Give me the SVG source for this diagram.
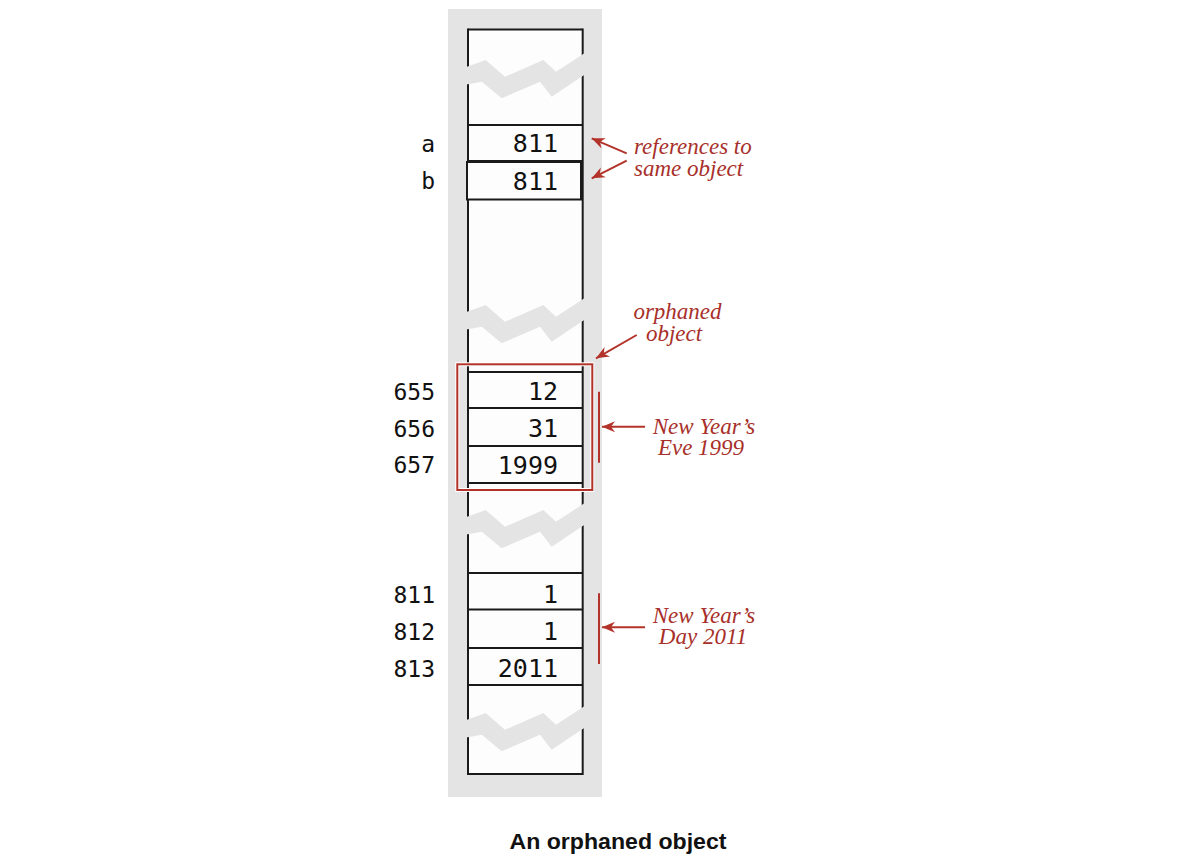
<svg xmlns="http://www.w3.org/2000/svg" width="1196" height="868" viewBox="0 0 1196 868">
<style>
.col{stroke:#1a1a1a;stroke-width:2;fill:none}
.cell{font-family:"DejaVu Sans Mono","Liberation Mono",monospace;font-size:25px;fill:#111;text-anchor:end}
.lab{font-family:"DejaVu Sans Mono","Liberation Mono",monospace;font-size:23px;fill:#111;text-anchor:end}
.note{font-family:"Liberation Serif","DejaVu Serif",serif;font-style:italic;font-size:23px;fill:#a8302a}
.red{stroke:#b3332a;stroke-width:2;fill:none}
.band{fill:#e4e4e4}
</style>
<defs>
<path id="band" d="M458,70 L485.7,60 L505,76.7 L543.3,60 L556,71.7 L592,48.2 L592,69.8 L551.7,96.7 L540,81.7 L501.7,98.3 L481.7,81.7 L458,86 Z"/>
<marker id="ah" markerWidth="16" markerHeight="12" refX="14" refY="6" orient="auto" markerUnits="userSpaceOnUse">
<path d="M14,6 L1,0.5 L5,6 L1,11.5 Z" fill="#b3332a"/>
</marker>
</defs>
<rect width="1196" height="868" fill="#ffffff"/>
<rect x="448" y="9" width="154" height="788" fill="#e4e4e4"/>
<g id="column">
<rect x="468" y="29.5" width="114.7" height="744.5" fill="#fdfdfd" stroke="none"/>
<line class="col" x1="468" y1="29.5" x2="582.7" y2="29.5"/>
<line class="col" x1="468" y1="774" x2="582.7" y2="774"/>
<line class="col" x1="468" y1="28.5" x2="468" y2="775"/>
<line class="col" x1="582.7" y1="28.5" x2="582.7" y2="775"/>
<use href="#band" class="band"/>
<use href="#band" class="band" transform="translate(0,245)"/>
<use href="#band" class="band" transform="translate(0,450)"/>
<use href="#band" class="band" transform="translate(0,653)"/>
</g>
<g id="cell-a">
<line class="col" x1="468" y1="125" x2="582.7" y2="125"/>
<line class="col" x1="468" y1="161" x2="582.7" y2="161"/>
<text class="cell" x="558" y="152">811</text>
<text class="lab" x="435" y="152">a</text>
</g>
<g id="cell-b">
<rect x="467" y="162" width="114" height="37.5" fill="#fdfdfd" stroke="#1a1a1a" stroke-width="2"/>
<text class="cell" x="558" y="190">811</text>
<text class="lab" x="435" y="189">b</text>
</g>
<g id="cells-655">
<line class="col" x1="468" y1="372" x2="582.7" y2="372"/>
<line class="col" x1="468" y1="408" x2="582.7" y2="408"/>
<line class="col" x1="468" y1="446" x2="582.7" y2="446"/>
<line class="col" x1="468" y1="483" x2="582.7" y2="483"/>
<text class="cell" x="558" y="400">12</text>
<text class="cell" x="558" y="437">31</text>
<text class="cell" x="558" y="474">1999</text>
<text class="lab" x="435" y="400">655</text>
<text class="lab" x="435" y="437">656</text>
<text class="lab" x="435" y="473">657</text>
</g>
<g id="cells-811">
<line class="col" x1="468" y1="573" x2="582.7" y2="573"/>
<line class="col" x1="468" y1="609.5" x2="582.7" y2="609.5"/>
<line class="col" x1="468" y1="648" x2="582.7" y2="648"/>
<line class="col" x1="468" y1="685" x2="582.7" y2="685"/>
<text class="cell" x="558" y="603">1</text>
<text class="cell" x="558" y="640">1</text>
<text class="cell" x="558" y="677">2011</text>
<text class="lab" x="435" y="603">811</text>
<text class="lab" x="435" y="640">812</text>
<text class="lab" x="435" y="677">813</text>
</g>
<g id="orphan-box">
<rect x="457.3" y="364.3" width="135" height="125.7" fill="none" stroke="#ffffff" stroke-width="4"/>
<rect x="457.3" y="364.3" width="135" height="125.7" class="red"/>
</g>
<g id="connectors">
<line class="red" x1="626.7" y1="153.3" x2="591.7" y2="138.3" marker-end="url(#ah)"/>
<line class="red" x1="626.7" y1="160.7" x2="591.7" y2="178.3" marker-end="url(#ah)"/>
<line class="red" x1="636.7" y1="335" x2="596" y2="358.3" marker-end="url(#ah)"/>
<line class="red" x1="599" y1="391.7" x2="599" y2="462.7"/>
<line class="red" x1="645" y1="426.7" x2="602" y2="426.7" marker-end="url(#ah)"/>
<line class="red" x1="599" y1="593.3" x2="599" y2="664"/>
<line class="red" x1="645" y1="627.3" x2="602" y2="627.3" marker-end="url(#ah)"/>
</g>
<g id="note-refs">
<text class="note"><tspan x="634" y="154">references to</tspan><tspan x="634" y="176">same object</tspan></text>
</g>
<g id="note-orphan">
<text class="note" text-anchor="middle"><tspan x="677.5" y="319">orphaned</tspan><tspan x="674" y="341">object</tspan></text>
</g>
<g id="note-eve">
<text class="note" text-anchor="middle"><tspan x="704" y="434">New Year’s</tspan><tspan x="701" y="455">Eve 1999</tspan></text>
</g>
<g id="note-day">
<text class="note" text-anchor="middle"><tspan x="704" y="623">New Year’s</tspan><tspan x="703" y="644">Day 2011</tspan></text>
</g>
<text x="618" y="849" text-anchor="middle" font-family="'Liberation Sans',Arial,sans-serif" font-weight="bold" font-size="22" fill="#111" textLength="217" lengthAdjust="spacingAndGlyphs">An orphaned object</text>
</svg>
